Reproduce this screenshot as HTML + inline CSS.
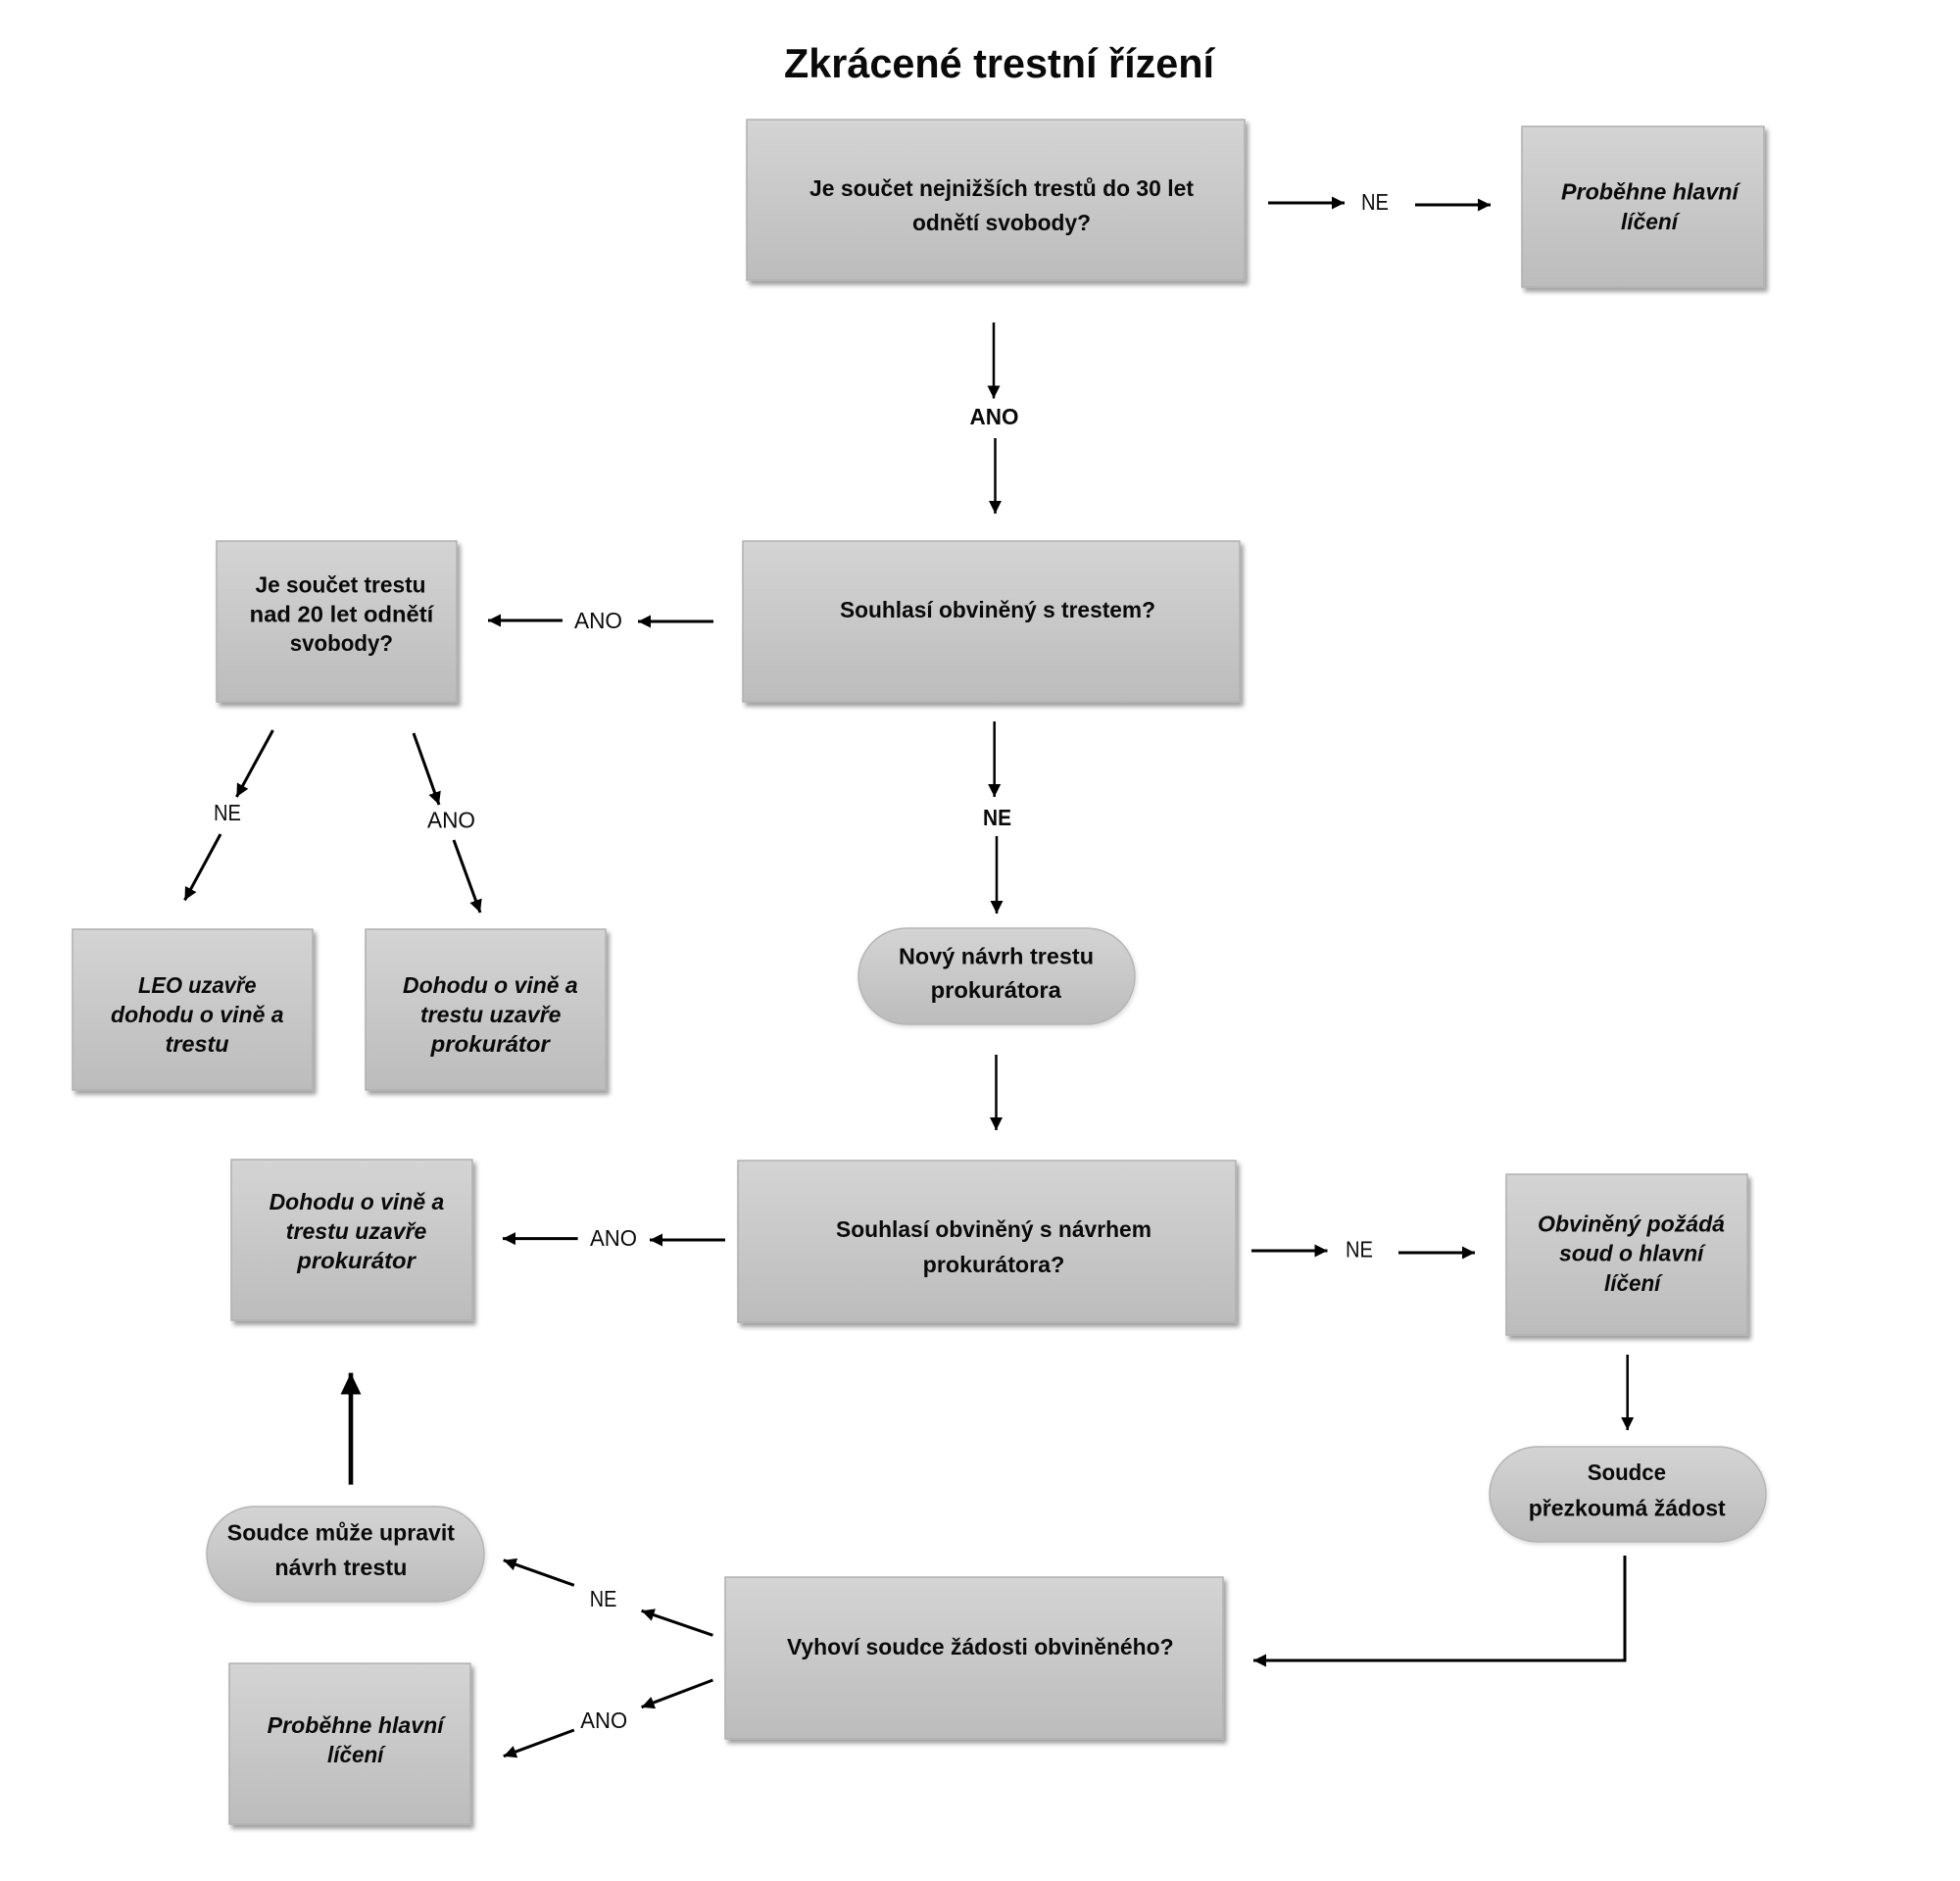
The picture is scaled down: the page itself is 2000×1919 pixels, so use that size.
<!DOCTYPE html>
<html>
<head>
<meta charset="utf-8">
<style>
  html,body{margin:0;padding:0;background:#fff;}
  svg{display:block;}
  text{font-family:"Liberation Sans", "DejaVu Sans", sans-serif; fill:#0a0a0a;}
  .b{font-weight:bold;font-size:23px;}
  .bi{font-weight:bold;font-style:italic;font-size:23px;}
  .r{font-size:23px;}
</style>
</head>
<body>
<svg width="2000" height="1919" viewBox="0 0 2000 1919" xmlns="http://www.w3.org/2000/svg">
  <defs>
    <linearGradient id="g" x1="0" y1="0" x2="0" y2="1">
      <stop offset="0" stop-color="#d4d4d4"/>
      <stop offset="1" stop-color="#bcbcbc"/>
    </linearGradient>
    <filter id="sh" x="-10%" y="-10%" width="125%" height="130%">
      <feDropShadow dx="3" dy="4" stdDeviation="2.5" flood-color="#000" flood-opacity="0.38"/>
    </filter>
    <filter id="sh2" x="-10%" y="-10%" width="125%" height="130%">
      <feDropShadow dx="1" dy="2" stdDeviation="2" flood-color="#000" flood-opacity="0.15"/>
    </filter>
    <marker id="ah" markerUnits="userSpaceOnUse" markerWidth="14" markerHeight="14" refX="13" refY="7" orient="auto">
      <path d="M0,0.5 L13,7 L0,13.5 z" fill="#000"/>
    </marker>
    <marker id="ahb" markerUnits="userSpaceOnUse" markerWidth="24" markerHeight="24" refX="22" refY="11" orient="auto">
      <path d="M0,0.5 L22,11 L0,21.5 z" fill="#000"/>
    </marker>
  </defs>

  <!-- Title -->
  <text x="800" y="79" font-size="42" font-weight="bold" textLength="439" lengthAdjust="spacingAndGlyphs">Zkrácené trestní řízení</text>

  <!-- Boxes -->
  <g fill="url(#g)" stroke="#b0b0b0" stroke-width="1.5" filter="url(#sh)">
    <rect x="762" y="122" width="508" height="164"/>
    <rect x="1553" y="129" width="247" height="164"/>
    <rect x="758" y="552" width="507" height="164"/>
    <rect x="221" y="552" width="245" height="164"/>
    <rect x="74" y="948" width="245" height="164"/>
    <rect x="373" y="948" width="245" height="164"/>
    <rect x="753" y="1184" width="508" height="165"/>
    <rect x="236" y="1183" width="246" height="164"/>
    <rect x="1537" y="1198" width="246" height="164"/>
    <rect x="740" y="1609" width="508" height="165"/>
    <rect x="234" y="1697" width="246" height="164"/>
  </g>
  <!-- Pills -->
  <g fill="url(#g)" stroke="#b5b5b5" stroke-width="1.5" filter="url(#sh2)">
    <rect x="876" y="947" width="282" height="98" rx="49" ry="49"/>
    <rect x="211" y="1537" width="283" height="97" rx="48.5" ry="48.5"/>
    <rect x="1520" y="1476" width="282" height="97" rx="48.5" ry="48.5"/>
  </g>

  <!-- Box texts -->
  <text class="b" x="826" y="200" textLength="392" lengthAdjust="spacingAndGlyphs">Je součet nejnižších trestů do 30 let</text>
  <text class="b" x="931" y="235" textLength="182" lengthAdjust="spacingAndGlyphs">odnětí svobody?</text>

  <text class="bi" x="1593" y="203.5" textLength="181" lengthAdjust="spacingAndGlyphs">Proběhne hlavní</text>
  <text class="bi" x="1654" y="234" textLength="58" lengthAdjust="spacingAndGlyphs">líčení</text>

  <text class="b" x="857" y="630" textLength="322" lengthAdjust="spacingAndGlyphs">Souhlasí obviněný s trestem?</text>

  <text class="b" x="260.5" y="604.6" textLength="174" lengthAdjust="spacingAndGlyphs">Je součet trestu</text>
  <text class="b" x="254.7" y="634.5" textLength="187.6" lengthAdjust="spacingAndGlyphs">nad 20 let odnětí</text>
  <text class="b" x="295.7" y="664" textLength="105.3" lengthAdjust="spacingAndGlyphs">svobody?</text>

  <text class="bi" x="141" y="1013" textLength="120.6" lengthAdjust="spacingAndGlyphs">LEO uzavře</text>
  <text class="bi" x="113" y="1043" textLength="176.6" lengthAdjust="spacingAndGlyphs">dohodu o vině a</text>
  <text class="bi" x="168.6" y="1073" textLength="65" lengthAdjust="spacingAndGlyphs">trestu</text>

  <text class="bi" x="411" y="1013" textLength="178.7" lengthAdjust="spacingAndGlyphs">Dohodu o vině a</text>
  <text class="bi" x="429" y="1043" textLength="143.5" lengthAdjust="spacingAndGlyphs">trestu uzavře</text>
  <text class="bi" x="439.6" y="1073" textLength="121.3" lengthAdjust="spacingAndGlyphs">prokurátor</text>

  <text class="b" x="917" y="983.5" textLength="199" lengthAdjust="spacingAndGlyphs">Nový návrh trestu</text>
  <text class="b" x="949.6" y="1018" textLength="133.2" lengthAdjust="spacingAndGlyphs">prokurátora</text>

  <text class="b" x="853" y="1262" textLength="322" lengthAdjust="spacingAndGlyphs">Souhlasí obviněný s návrhem</text>
  <text class="b" x="941.7" y="1298" textLength="144.6" lengthAdjust="spacingAndGlyphs">prokurátora?</text>

  <text class="bi" x="274.6" y="1234" textLength="178.7" lengthAdjust="spacingAndGlyphs">Dohodu o vině a</text>
  <text class="bi" x="291.8" y="1264" textLength="143.6" lengthAdjust="spacingAndGlyphs">trestu uzavře</text>
  <text class="bi" x="303.3" y="1294" textLength="120.6" lengthAdjust="spacingAndGlyphs">prokurátor</text>

  <text class="b" x="231.8" y="1571.7" textLength="232.2" lengthAdjust="spacingAndGlyphs">Soudce může upravit</text>
  <text class="b" x="280.4" y="1607" textLength="135" lengthAdjust="spacingAndGlyphs">návrh trestu</text>

  <text class="bi" x="1569" y="1256.4" textLength="191" lengthAdjust="spacingAndGlyphs">Obviněný požádá</text>
  <text class="bi" x="1591" y="1286.3" textLength="147.4" lengthAdjust="spacingAndGlyphs">soud o hlavní</text>
  <text class="bi" x="1637" y="1317" textLength="57.4" lengthAdjust="spacingAndGlyphs">líčení</text>

  <text class="b" x="1619.7" y="1510" textLength="80.3" lengthAdjust="spacingAndGlyphs">Soudce</text>
  <text class="b" x="1559.7" y="1546.5" textLength="201" lengthAdjust="spacingAndGlyphs">přezkoumá žádost</text>

  <text class="b" x="803" y="1688" textLength="394.6" lengthAdjust="spacingAndGlyphs">Vyhoví soudce žádosti obviněného?</text>

  <text class="bi" x="272.7" y="1768" textLength="180" lengthAdjust="spacingAndGlyphs">Proběhne hlavní</text>
  <text class="bi" x="334" y="1798" textLength="57.4" lengthAdjust="spacingAndGlyphs">líčení</text>

  <!-- Connector labels -->
  <text class="r" x="1389" y="214" textLength="28" lengthAdjust="spacingAndGlyphs">NE</text>
  <text class="b" x="989.5" y="433" textLength="50" lengthAdjust="spacingAndGlyphs">ANO</text>
  <text class="r" x="586" y="641" textLength="49" lengthAdjust="spacingAndGlyphs">ANO</text>
  <text class="r" x="218" y="837" textLength="28" lengthAdjust="spacingAndGlyphs">NE</text>
  <text class="r" x="436" y="844.6" textLength="49" lengthAdjust="spacingAndGlyphs">ANO</text>
  <text class="b" x="1003" y="842" textLength="29" lengthAdjust="spacingAndGlyphs">NE</text>
  <text class="r" x="602" y="1271" textLength="48" lengthAdjust="spacingAndGlyphs">ANO</text>
  <text class="r" x="1373" y="1282.5" textLength="28" lengthAdjust="spacingAndGlyphs">NE</text>
  <text class="r" x="601.8" y="1639" textLength="27.6" lengthAdjust="spacingAndGlyphs">NE</text>
  <text class="r" x="592.3" y="1763" textLength="47.8" lengthAdjust="spacingAndGlyphs">ANO</text>

  <!-- Arrows -->
  <g stroke="#000" stroke-width="3" fill="none" marker-end="url(#ah)">
    <line x1="1294" y1="207" x2="1372" y2="207"/>
    <line x1="1444" y1="209" x2="1521" y2="209"/>
    <line x1="1014" y1="329" x2="1014" y2="406.5" stroke-width="2.5"/>
    <line x1="1015.5" y1="447" x2="1015.5" y2="524" stroke-width="2.5"/>
    <line x1="728" y1="634" x2="651" y2="634"/>
    <line x1="574" y1="633" x2="498" y2="633"/>
    <line x1="278.5" y1="745" x2="241.4" y2="813"/>
    <line x1="225" y1="851" x2="188.5" y2="918.4"/>
    <line x1="422" y1="748" x2="448" y2="821"/>
    <line x1="463" y1="857" x2="490" y2="931"/>
    <line x1="1014.7" y1="736" x2="1014.7" y2="813" stroke-width="2.5"/>
    <line x1="1017" y1="853" x2="1017" y2="932" stroke-width="2.5"/>
    <line x1="1016.5" y1="1076" x2="1016.5" y2="1153" stroke-width="2.5"/>
    <line x1="1277" y1="1276" x2="1354.5" y2="1276"/>
    <line x1="1427" y1="1278" x2="1505" y2="1278"/>
    <line x1="740" y1="1265" x2="663" y2="1265"/>
    <line x1="589.6" y1="1263.6" x2="513" y2="1263.6"/>
    <line x1="1660.7" y1="1382" x2="1660.7" y2="1459" stroke-width="2.5"/>
    <polyline points="1658,1587 1658,1694 1279,1694"/>
    <line x1="585.8" y1="1617.3" x2="513.8" y2="1591.7"/>
    <line x1="727.4" y1="1668.3" x2="654.6" y2="1643.3"/>
    <line x1="727.4" y1="1714" x2="654.6" y2="1741.7"/>
    <line x1="585.8" y1="1765" x2="513.8" y2="1791.7"/>
  </g>
  <line x1="358" y1="1514.6" x2="358" y2="1400.6" stroke="#000" stroke-width="4.6" marker-end="url(#ahb)"/>
</svg>
</body>
</html>
